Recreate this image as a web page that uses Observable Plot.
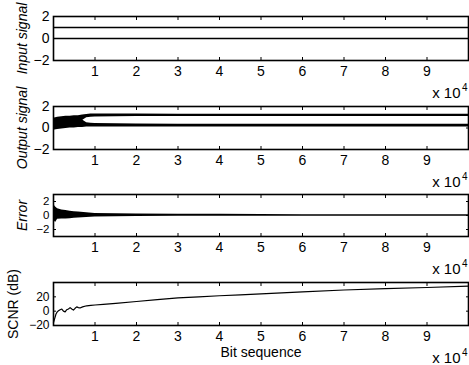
<!DOCTYPE html>
<html>
<head>
<meta charset="utf-8">
<script src="https://cdn.jsdelivr.net/npm/d3@7"></script>
<script src="https://cdn.jsdelivr.net/npm/@observablehq/plot@0.6"></script>
<style>
  body { margin: 0; background: #fff; }
  #chart { position: relative; width: 469px; height: 365px; overflow: hidden; background: #fff; }
  #chart svg { position: absolute; left: 0; overflow: visible; }
</style>
</head>
<body>
<div id="chart"></div>
<script>
// ---- shared axis data ----
const xTicks = [10000, 20000, 30000, 40000, 50000, 60000, 70000, 80000, 90000];
const xTickLabels = ["1", "2", "3", "4", "5", "6", "7", "8", "9"];
const xDomain = [0, 100000];

// ---- panel 1: input signal (binary bits) ----
const inputLevels = [0, 1];
const inputYTicks = [-2, 0, 2];

// ---- panel 2: output signal (two bands around the bit levels) ----
const outputX =        [0,    1000, 2000, 3000, 4000, 5000, 6000, 7000, 8000, 9000, 10000, 15000, 20000, 30000, 40000, 50000, 60000, 70000, 80000, 90000, 100000];
const outUpperTop =    [0.9,  1.0,  1.05, 1.1,  1.1,  1.15, 1.15, 1.2,  1.25, 1.3,  1.3,   1.3,   1.3,   1.28,  1.28,  1.28,  1.28,  1.28,  1.28,  1.28,  1.28];
const outUpperBottom = [0.4,  0.4,  0.4,  0.45, 0.5,  0.55, 0.6,  0.7,  0.95, 1.0,  1.02,  1.05,  1.06,  1.06,  1.06,  1.06,  1.06,  1.06,  1.06,  1.06,  1.06];
const outLowerTop =    [0.5,  0.5,  0.55, 0.55, 0.6,  0.65, 0.7,  0.75, 0.5,  0.45, 0.42,  0.4,   0.38,  0.35,  0.35,  0.34,  0.34,  0.34,  0.34,  0.34,  0.34];
const outLowerBottom = [-0.2, -0.15,-0.1, -0.05,0,    0,    0.05, 0.05, 0.1,  0.1,  0.1,   0.1,   0.1,   0.1,   0.1,   0.1,   0.1,   0.1,   0.1,   0.1,   0.1];
const outputYTicks = [-2, 0, 2];

// ---- panel 3: error envelope ----
const errX =      [0,    500,  1000, 2000, 3000, 4000, 5000, 6000, 8000, 10000, 15000, 20000, 30000, 40000, 50000, 60000, 80000, 100000];
const errTop =    [1.6,  1.2,  0.95, 0.8,  0.7,  0.6,  0.55, 0.5,  0.4,  0.3,   0.25,  0.2,   0.18,  0.18,  0.15,  0.12,  0.12,  0.12];
const errBottom = [-0.6, -1.0, -0.55,-0.5, -0.5, -0.45,-0.4, -0.35,-0.3, -0.22, -0.18, -0.15, -0.12, -0.12, -0.1,  -0.1,  -0.1,  -0.1];
const errYTicks = [-2, 0, 2];

// ---- panel 4: SCNR (dB) ----
const scnrX =  [0,   300, 600, 900, 1200, 1600, 2000, 2400, 2800, 3200, 3600, 4000, 4400, 4800, 5200, 5600, 6000, 6400, 7000, 8000, 9000, 10000, 12000, 15000, 20000, 25000, 30000, 35000, 40000, 45000, 50000, 55000, 60000, 70000, 80000, 90000, 100000];
const scnrDb = [-16, -10, -4,  -1,  0.5,  2,    3,    0,    -1,   2,    3,    5,    3,    1.5,  4,    6,    5,    4.5,  6,    7.5,  8,    8.6,   9.5,   11,    13.5,  16,    18.5,  20,    21.5,  22.8,  24,    25.5,  27,    29.5,  31.5,  33,    35];
const scnrYTicks = [-20, 0, 20];

const FONT = "'Liberation Sans', Arial, Helvetica, sans-serif";

function panel({top, height, marginTop, marginBottom, yDomain, yTicks, yTickFont, yLabel, italic, labelDx, marks}) {
  const p = Plot.plot({
    width: 469,
    height,
    marginLeft: 53,
    marginRight: 1,
    marginTop,
    marginBottom,
    style: {background: "transparent", overflow: "visible", fontFamily: FONT, fontSize: "14px", color: "#000"},
    x: {domain: xDomain},
    y: {domain: yDomain},
    marks: [
      ...marks,
      Plot.frame({stroke: "#000", strokeWidth: 1.6}),
      Plot.axisX(xTicks, {anchor: "bottom", tickSize: -3, tickPadding: 9, tickFormat: d => xTickLabels[xTicks.indexOf(d)], label: null, fontSize: 14}),
      Plot.axisX(xTicks, {anchor: "top", tickSize: -3, tickFormat: () => "", label: null}),
      Plot.axisY(yTicks, {anchor: "left", tickSize: -3, tickPadding: 7, label: null, fontSize: yTickFont}),
      Plot.axisY(yTicks, {anchor: "right", tickSize: -3, tickFormat: () => "", label: null}),
      Plot.text([yLabel], {frameAnchor: "left", rotate: -90, dx: labelDx, textAnchor: "middle", lineAnchor: "middle", fontStyle: italic ? "italic" : "normal", fontSize: 14}),
      Plot.text(["x 10"], {frameAnchor: "bottom-right", textAnchor: "end", lineAnchor: "middle", dx: -8, dy: 33, fontSize: 15}),
      Plot.text(["4"], {frameAnchor: "bottom-right", textAnchor: "end", lineAnchor: "middle", dx: -1, dy: 27, fontSize: 10})
    ]
  });
  p.style.top = top + "px";
  document.getElementById("chart").append(p);
  return p;
}

// Panel 1
panel({
  top: 0, height: 98, marginTop: 16, marginBottom: 38,
  yDomain: [-2, 2], yTicks: inputYTicks, yTickFont: 14, yLabel: "Input signal", italic: true, labelDx: -31,
  marks: [Plot.ruleY(inputLevels, {stroke: "#000", strokeWidth: 1.5})]
});

// Panel 2
const upperBand = outputX.map((x, i) => ({x, y1: outUpperBottom[i], y2: outUpperTop[i]}));
const lowerBand = outputX.map((x, i) => ({x, y1: outLowerBottom[i], y2: outLowerTop[i]}));
panel({
  top: 98, height: 88, marginTop: 8, marginBottom: 37,
  yDomain: [-2, 2], yTicks: outputYTicks, yTickFont: 14, yLabel: "Output signal", italic: true, labelDx: -31,
  marks: [
    Plot.areaY(upperBand, {x: "x", y1: "y1", y2: "y2", fill: "#000"}),
    Plot.areaY(lowerBand, {x: "x", y1: "y1", y2: "y2", fill: "#000"})
  ]
});

// Panel 3
const errBand = errX.map((x, i) => ({x, y1: errBottom[i], y2: errTop[i]}));
panel({
  top: 186, height: 88, marginTop: 8, marginBottom: 38,
  yDomain: [-3, 3], yTicks: errYTicks, yTickFont: 11.5, yLabel: "Error", italic: true, labelDx: -31,
  marks: [Plot.areaY(errBand, {x: "x", y1: "y1", y2: "y2", fill: "#000"})]
});

// Panel 4
const scnr = scnrX.map((x, i) => ({x, y: scnrDb[i]}));
panel({
  top: 274, height: 91, marginTop: 8, marginBottom: 40,
  yDomain: [-20, 40], yTicks: scnrYTicks, yTickFont: 12, yLabel: "SCNR (dB)", italic: false, labelDx: -40,
  marks: [
    Plot.line(scnr, {x: "x", y: "y", stroke: "#000", strokeWidth: 1.2}),
    Plot.text(["Bit sequence"], {frameAnchor: "bottom", dy: 27, lineAnchor: "middle", fontSize: 14})
  ]
});
</script>
</body>
</html>
